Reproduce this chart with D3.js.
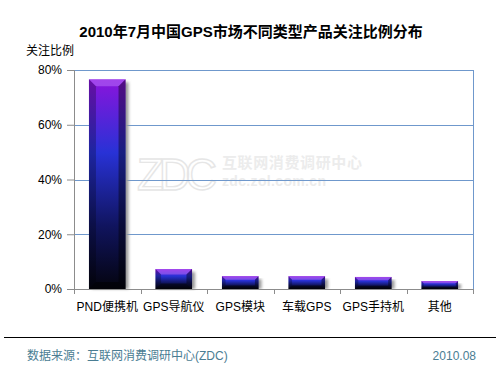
<!DOCTYPE html>
<html>
<head>
<meta charset="utf-8">
<script src="https://cdn.jsdelivr.net/npm/d3@7"></script>
<style>
  body { margin: 0; background: #fff; }
  text { font-family: "Liberation Sans", Arial, "Noto Sans CJK SC", sans-serif; }
</style>
</head>
<body>
<div id="chart"></div>
<script>
// values (percent)
var categories = ["PND便携机", "GPS导航仪", "GPS模块", "车载GPS", "GPS手持机", "其他"];
var shares = [76.6, 7.3, 4.7, 4.7, 4.4, 2.9];
var yTicks = [0, 20, 40, 60, 80];

var width = 500, height = 375;
var margin = { top: 70, right: 27, bottom: 86, left: 74 };
var plotW = width - margin.left - margin.right;
var plotH = height - margin.top - margin.bottom;

var svg = d3.select('#chart').append('svg')
  .attr('width', width)
  .attr('height', height);

var defs = svg.append('defs');
var grad = defs.append('linearGradient')
  .attr('id', 'barFill')
  .attr('x1', 0).attr('y1', 0).attr('x2', 0).attr('y2', 1);
grad.append('stop').attr('offset', '0%').attr('stop-color', '#8a14dc');
grad.append('stop').attr('offset', '35%').attr('stop-color', '#2832d6');
grad.append('stop').attr('offset', '70%').attr('stop-color', '#10145e');
grad.append('stop').attr('offset', '100%').attr('stop-color', '#04040e');

defs.append('filter').attr('id', 'blur')
  .attr('x', '-50%').attr('y', '-10%').attr('width', '200%').attr('height', '120%')
  .append('feGaussianBlur').attr('stdDeviation', 1.6);

var x = d3.scaleBand().domain(categories).range([0, plotW]).paddingInner(0.45).paddingOuter(0.225);
var xTick = d3.scaleBand().domain(categories).range([0, plotW]);
var y = d3.scaleLinear().domain([0, 80]).range([plotH, 0]);

// title
svg.append('text')
  .attr('x', 251).attr('y', 37)
  .attr('text-anchor', 'middle')
  .attr('font-size', 15).attr('font-weight', 'bold')
  .attr('fill', '#000')
  .text('2010年7月中国GPS市场不同类型产品关注比例分布');

svg.append('text')
  .attr('x', 26).attr('y', 55)
  .attr('font-size', 12).attr('fill', '#000')
  .text('关注比例');

var g = svg.append('g').attr('transform', 'translate(' + margin.left + ',' + margin.top + ')');

// watermark
var wm = g.append('g');
wm.append('text')
  .attr('x', 63).attr('y', 120)
  .attr('font-size', 44).attr('font-family', '"Liberation Serif", serif')
  .attr('fill', 'none').attr('stroke', '#e6e6e6').attr('stroke-width', 1.4)
  .attr('textLength', 80)
  .text('ZDC');
wm.append('text')
  .attr('x', 148).attr('y', 98)
  .attr('font-size', 15).attr('font-weight', 'bold').attr('fill', '#ececec')
  .attr('textLength', 140)
  .text('互联网消费调研中心');
wm.append('text')
  .attr('x', 148).attr('y', 116)
  .attr('font-size', 14).attr('font-weight', 'bold').attr('fill', '#ececec')
  .attr('textLength', 104)
  .text('zdc.zol.com.cn');

// gridlines
g.selectAll('.grid')
  .data(yTicks.filter(function(d) { return d > 0; }))
  .enter().append('line')
  .attr('x1', 0).attr('x2', plotW)
  .attr('y1', function(d) { return Math.round(y(d)) + 0.5; })
  .attr('y2', function(d) { return Math.round(y(d)) + 0.5; })
  .attr('stroke', '#6f98cc').attr('stroke-width', 1);

// right border
g.append('line')
  .attr('x1', plotW + 0.5).attr('x2', plotW + 0.5)
  .attr('y1', 0).attr('y2', plotH)
  .attr('stroke', '#6f98cc');

// bars
var bars = g.selectAll('.bar')
  .data(shares)
  .enter().append('g')
  .attr('class', 'bar');

bars.append('rect')
  .attr('x', function(d, i) { return x(categories[i]) + 3; })
  .attr('y', function(d) { return y(d) + 3; })
  .attr('width', x.bandwidth())
  .attr('height', function(d) { return plotH - y(d) - 3; })
  .attr('fill', '#9a9a9a')
  .attr('filter', 'url(#blur)');

bars.append('rect')
  .attr('x', function(d, i) { return x(categories[i]); })
  .attr('y', function(d) { return y(d); })
  .attr('width', x.bandwidth())
  .attr('height', function(d) { return plotH - y(d); })
  .attr('fill', 'url(#barFill)');

function bevel(d, i, side) {
  var x0 = x(categories[i]), x1 = x0 + x.bandwidth();
  var y0 = y(d), y1 = plotH;
  var b = Math.min(7, (y1 - y0) * 0.28);
  var pts;
  if (side === 'top') pts = [[x0, y0], [x1, y0], [x1 - b, y0 + b], [x0 + b, y0 + b]];
  if (side === 'left') pts = [[x0, y0], [x0 + b, y0 + b], [x0 + b, y1 - b], [x0, y1]];
  if (side === 'right') pts = [[x1, y0], [x1, y1], [x1 - b, y1 - b], [x1 - b, y0 + b]];
  if (side === 'bottom') pts = [[x0, y1], [x0 + b, y1 - b], [x1 - b, y1 - b], [x1, y1]];
  return 'M' + pts.join('L') + 'Z';
}

bars.append('path').attr('d', function(d, i) { return bevel(d, i, 'top'); })
  .attr('fill', '#c080ff').attr('opacity', 0.45);
bars.append('path').attr('d', function(d, i) { return bevel(d, i, 'left'); })
  .attr('fill', '#000').attr('opacity', 0.25);
bars.append('path').attr('d', function(d, i) { return bevel(d, i, 'right'); })
  .attr('fill', '#000').attr('opacity', 0.4);
bars.append('path').attr('d', function(d, i) { return bevel(d, i, 'bottom'); })
  .attr('fill', '#000').attr('opacity', 0.5);

// axes
var yAxis = g.append('g')
  .call(d3.axisLeft(y).tickValues(yTicks).tickSize(7).tickPadding(5)
    .tickFormat(function(d) { return d + '%'; }));
yAxis.select('.domain').attr('stroke', '#8c8c8c');
yAxis.selectAll('.tick line').attr('stroke', '#8c8c8c');
yAxis.selectAll('text').attr('font-size', 12).attr('fill', '#000')
  .style('font-family', '"Liberation Sans", Arial, sans-serif');

var xAxis = g.append('g')
  .attr('transform', 'translate(0,' + plotH + ')')
  .call(d3.axisBottom(xTick).tickSize(0).tickPadding(13));
xAxis.select('.domain').attr('stroke', '#8c8c8c');
xAxis.selectAll('text').attr('font-size', 12).attr('fill', '#000');

// tick marks between categories
xAxis.selectAll('.sep')
  .data(d3.range(categories.length + 1))
  .enter().append('line')
  .attr('x1', function(i) { return Math.round(i * xTick.step()) + 0.5; })
  .attr('x2', function(i) { return Math.round(i * xTick.step()) + 0.5; })
  .attr('y1', 0).attr('y2', 5)
  .attr('stroke', '#8c8c8c');

// footer
svg.append('line')
  .attr('x1', 4).attr('x2', 496)
  .attr('y1', 337.5).attr('y2', 337.5)
  .attr('stroke', '#000');

svg.append('text')
  .attr('x', 27).attr('y', 360)
  .attr('font-size', 12).attr('fill', '#4a7d93')
  .text('数据来源：互联网消费调研中心(ZDC)');

svg.append('text')
  .attr('x', 476).attr('y', 360)
  .attr('text-anchor', 'end')
  .attr('font-size', 12).attr('fill', '#4a7d93')
  .text('2010.08');
</script>
</body>
</html>
